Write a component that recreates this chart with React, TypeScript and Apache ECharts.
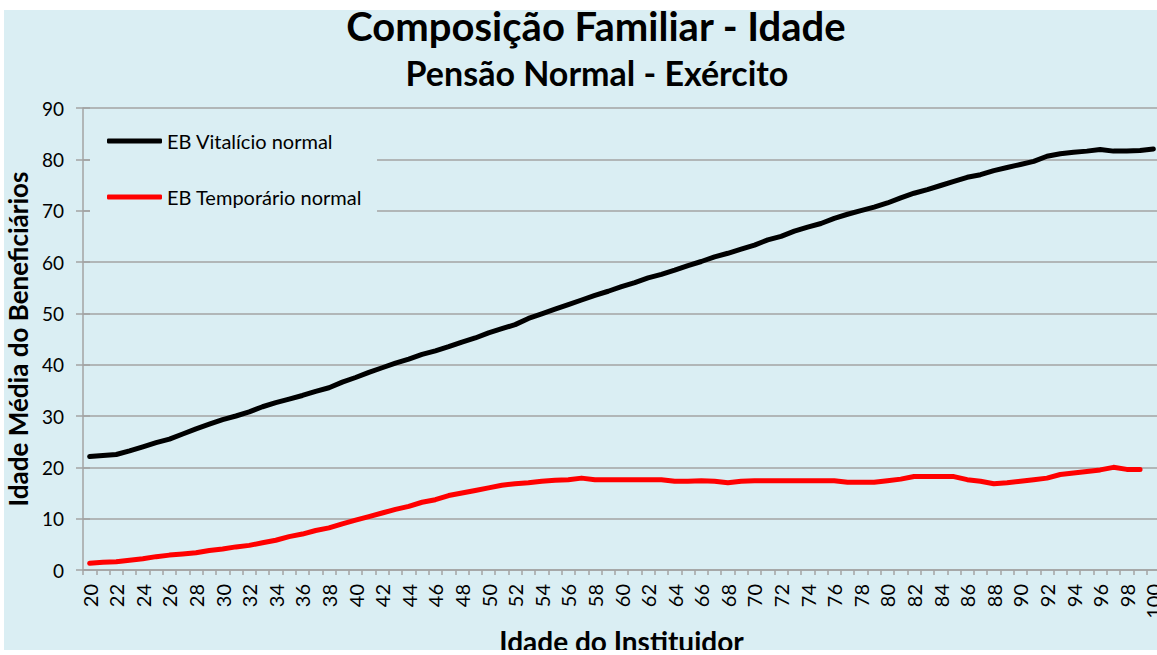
import React, { useEffect, useRef } from "react";
import * as echarts from "echarts";

const ages = [
  "20", "21", "22", "23", "24", "25", "26", "27", "28", "29",
  "30", "31", "32", "33", "34", "35", "36", "37", "38", "39",
  "40", "41", "42", "43", "44", "45", "46", "47", "48", "49",
  "50", "51", "52", "53", "54", "55", "56", "57", "58", "59",
  "60", "61", "62", "63", "64", "65", "66", "67", "68", "69",
  "70", "71", "72", "73", "74", "75", "76", "77", "78", "79",
  "80", "81", "82", "83", "84", "85", "86", "87", "88", "89",
  "90", "91", "92", "93", "94", "95", "96", "97", "98", "99",
  "100",
];

const vitalicio = [
  22.1, 22.3, 22.5, 23.2, 24.0, 24.8, 25.5, 26.5, 27.5, 28.4,
  29.3, 30.0, 30.8, 31.8, 32.6, 33.3, 34.0, 34.8, 35.5, 36.6,
  37.5, 38.5, 39.4, 40.3, 41.1, 42.0, 42.7, 43.5, 44.4, 45.2,
  46.2, 47.0, 47.8, 49.0, 49.9, 50.8, 51.7, 52.6, 53.5, 54.3,
  55.2, 56.0, 56.9, 57.6, 58.4, 59.3, 60.1, 61.0, 61.7, 62.5,
  63.3, 64.3, 65.0, 66.0, 66.8, 67.5, 68.5, 69.3, 70.0, 70.7,
  71.5, 72.5, 73.4, 74.1, 74.9, 75.7, 76.5, 77.0, 77.8, 78.4,
  79.0, 79.6, 80.6, 81.1, 81.4, 81.6, 81.9, 81.6, 81.6, 81.7,
  82.0,
];

const temporario = [
  1.3, 1.5, 1.6, 1.9, 2.2, 2.6, 2.9, 3.1, 3.35, 3.8,
  4.1, 4.5, 4.8, 5.3, 5.8, 6.5, 7.0, 7.7, 8.2, 9.0,
  9.7, 10.4, 11.1, 11.8, 12.4, 13.2, 13.7, 14.5, 15.0, 15.5,
  16.0, 16.5, 16.8, 17.0, 17.3, 17.5, 17.6, 17.9, 17.6, 17.6,
  17.6, 17.6, 17.6, 17.6, 17.3, 17.3, 17.4, 17.3, 17.0, 17.3,
  17.4, 17.4, 17.4, 17.4, 17.4, 17.4, 17.4, 17.1, 17.1, 17.1,
  17.4, 17.7, 18.2, 18.2, 18.2, 18.2, 17.6, 17.3, 16.8, 17.0,
  17.3, 17.6, 17.9, 18.6, 18.9, 19.2, 19.5, 20.0, 19.6, 19.6,
  null,
];

const yTicks = { min: 0, max: 90, interval: 10 };

const FONT = "Lato, 'Open Sans', sans-serif";
const BG = "#DAEEF3";
const GRID_GRAY = "#A3A3A3";

export default function App() {
  const ref = useRef<HTMLDivElement>(null);

  useEffect(() => {
    if (!ref.current) return;
    const chart = echarts.init(ref.current, undefined, { renderer: "svg" });
    chart.setOption({
      animation: false,
      backgroundColor: "#FFFFFF",
      textStyle: { fontFamily: FONT },
      graphic: [
        {
          type: "rect",
          silent: true,
          z: -100,
          shape: { x: 4, y: 10, width: 1153, height: 640 },
          style: { fill: BG },
        },
        {
          type: "rect",
          silent: true,
          z: 100,
          shape: { x: 0, y: 650, width: 1157, height: 5 },
          style: { fill: "#FFFFFF" },
        },
      ],
      title: [
        {
          text: "Composição Familiar - Idade",
          left: 596,
          top: 6,
          padding: 0,
          textAlign: "center",
          textStyle: { fontFamily: FONT, fontSize: 40, fontWeight: "bold", color: "#000" },
        },
        {
          text: "Pensão Normal - Exército",
          left: 597,
          top: 55,
          padding: 0,
          textAlign: "center",
          textStyle: { fontFamily: FONT, fontSize: 34, fontWeight: "bold", color: "#000" },
        },
      ],
      legend: {
        orient: "vertical",
        left: 90,
        top: 115,
        padding: [14, 15, 19, 17],
        backgroundColor: BG,
        itemWidth: 55,
        itemHeight: 5,
        itemGap: 32,
        icon: "roundRect",
        textStyle: { fontFamily: FONT, fontSize: 20, color: "#000", lineHeight: 24 },
        data: ["EB Vitalício normal", "EB Temporário normal"],
      },
      grid: { left: 83, right: -3, top: 108, bottom: 85, containLabel: false, outerBoundsMode: "none" },
      xAxis: {
        type: "category",
        data: ages,
        boundaryGap: true,
        name: "Idade do Instituidor",
        nameLocation: "middle",
        nameGap: 55,
        nameTextStyle: { fontFamily: FONT, fontSize: 28, fontWeight: "bold", color: "#000" },
        axisLine: { lineStyle: { color: GRID_GRAY, width: 1.5 } },
        axisTick: { show: true, interval: 0, length: 5, lineStyle: { color: GRID_GRAY, width: 1.5 } },
        axisLabel: {
          interval: 1,
          rotate: 90,
          margin: 14,
          fontFamily: FONT,
          fontSize: 20,
          color: "#000",
        },
        splitLine: { show: false },
      },
      yAxis: [
        {
          type: "value",
          min: yTicks.min,
          max: yTicks.max,
          interval: yTicks.interval,
          name: "Idade Média do Beneficiários",
          nameLocation: "middle",
          nameGap: 49,
          nameTextStyle: { fontFamily: FONT, fontSize: 26, fontWeight: "bold", color: "#000" },
          axisLine: { show: true, lineStyle: { color: GRID_GRAY, width: 1.5 } },
          axisTick: { show: true, length: 7, lineStyle: { color: GRID_GRAY, width: 1.5 } },
          axisLabel: { margin: 19, fontFamily: FONT, fontSize: 19, color: "#000" },
          splitLine: { show: true, lineStyle: { color: GRID_GRAY, width: 1.5 } },
        },
        {
          type: "value",
          min: yTicks.min,
          max: yTicks.max,
          interval: yTicks.interval,
          position: "left",
          axisLine: { show: false },
          axisTick: { show: true, inside: true, length: 7, lineStyle: { color: GRID_GRAY, width: 1.5 } },
          axisLabel: { show: false },
          splitLine: { show: false },
        },
      ],
      series: [
        {
          name: "EB Vitalício normal",
          type: "line",
          data: vitalicio,
          symbol: "none",
          lineStyle: { color: "#000000", width: 5, cap: "round", join: "round" },
          itemStyle: { color: "#000000" },
          z: 3,
        },
        {
          name: "EB Temporário normal",
          type: "line",
          data: temporario,
          symbol: "none",
          lineStyle: { color: "#FF0000", width: 5, cap: "round", join: "round" },
          itemStyle: { color: "#FF0000" },
          z: 3,
        },
      ],
    });
    return () => chart.dispose();
  }, []);

  return (
    <div style={{ position: "absolute", left: 0, top: 0, width: 1157, height: 655, overflow: "hidden" }}>
      <div ref={ref} style={{ width: 1157, height: 655 }} />
    </div>
  );
}
